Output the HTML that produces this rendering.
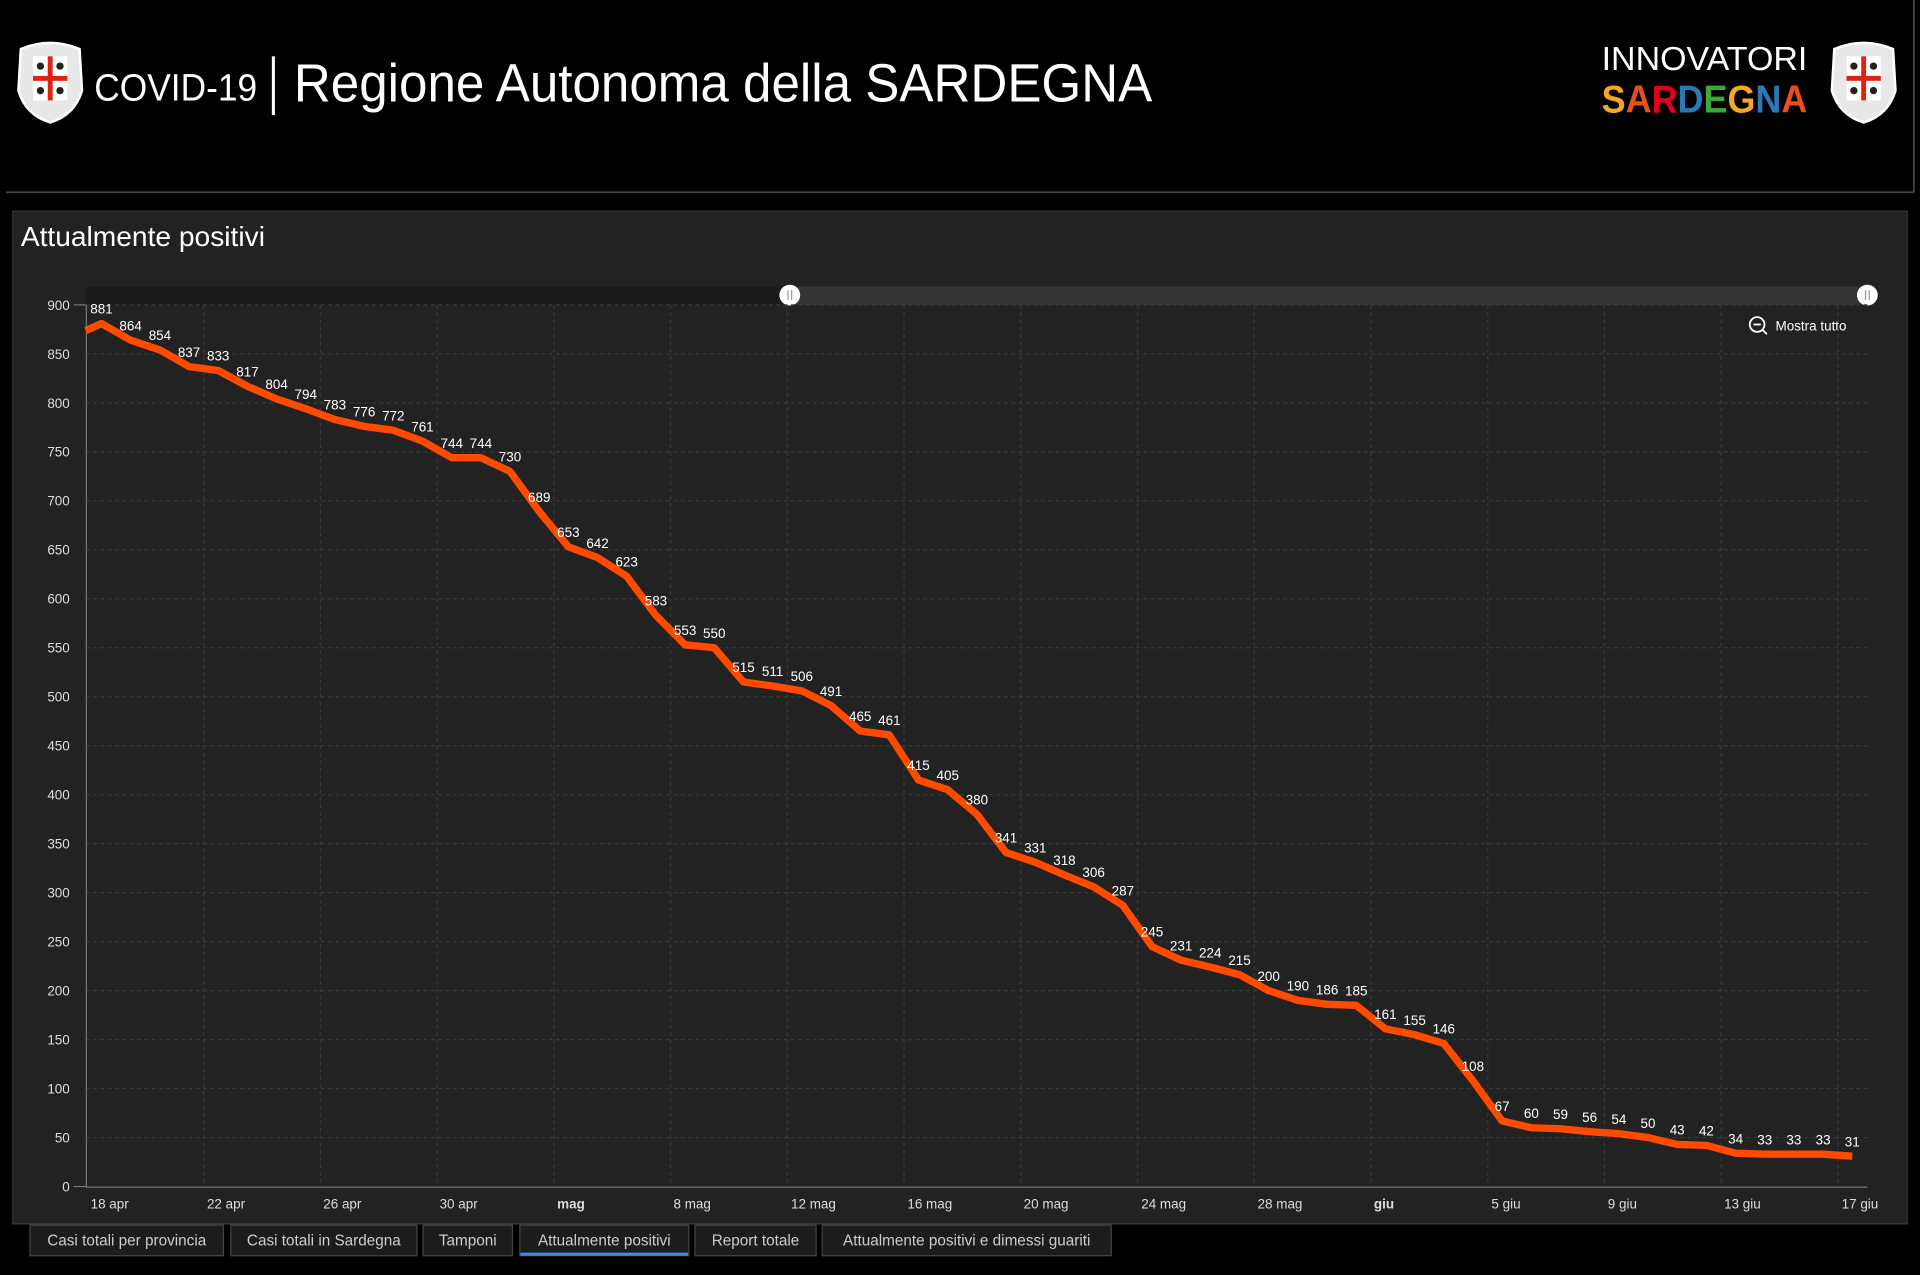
<!DOCTYPE html>
<html><head><meta charset="utf-8"><style>
html,body{margin:0;padding:0;background:#000;width:1920px;height:1275px;overflow:hidden}
svg{display:block}
text{font-family:"Liberation Sans",sans-serif}
</style></head><body>
<svg width="1920" height="1275" viewBox="0 0 1568 1041.25" preserveAspectRatio="none">
<rect width="1568" height="1042" fill="#000"/>
<line x1="5" y1="157" x2="1563" y2="157" stroke="#444" stroke-width="1.5"/>
<line x1="1563" y1="0" x2="1563" y2="157" stroke="#444" stroke-width="1.5"/>
<g transform="translate(41,66)">
<path d="M-24,-26 Q0,-36 24,-26 L26,8 Q20,28 0,34 Q-20,28 -26,8 Z" fill="#e8e8e8" stroke="#fff" stroke-width="2"/>
<rect x="-14" y="-20" width="28" height="36" fill="#fff"/>
<rect x="-14" y="-4" width="28" height="4" fill="#d21"/>
<rect x="-2" y="-20" width="4" height="36" fill="#d21"/>
<circle cx="-8" cy="-12" r="3" fill="#222"/><circle cx="8" cy="-12" r="3" fill="#222"/>
<circle cx="-8" cy="8" r="3" fill="#222"/><circle cx="8" cy="8" r="3" fill="#222"/>
</g>
<text x="77" y="82" font-size="31" fill="#fff" textLength="133" lengthAdjust="spacingAndGlyphs">COVID-19</text>
<rect x="222" y="46" width="2.5" height="48" fill="#fff"/>
<text x="240" y="83" font-size="44" fill="#fff" textLength="701" lengthAdjust="spacingAndGlyphs">Regione Autonoma della SARDEGNA</text>
<text x="1308" y="57" font-size="27" fill="#fff" textLength="168" lengthAdjust="spacingAndGlyphs" font-family="Liberation Sans Narrow, Liberation Sans, sans-serif">INNOVATORI</text>
<text x="1308" y="92" font-size="32" font-weight="bold" textLength="168" lengthAdjust="spacingAndGlyphs"><tspan fill="#f5a623">S</tspan><tspan fill="#e94e1b">A</tspan><tspan fill="#e2001a">R</tspan><tspan fill="#2a7ab8">D</tspan><tspan fill="#3aaa35">E</tspan><tspan fill="#f5a623">G</tspan><tspan fill="#2a7ab8">N</tspan><tspan fill="#e94e1b">A</tspan></text>
<g transform="translate(1522,66)">
<path d="M-24,-26 Q0,-36 24,-26 L26,8 Q20,28 0,34 Q-20,28 -26,8 Z" fill="#e8e8e8" stroke="#fff" stroke-width="2"/>
<rect x="-14" y="-20" width="28" height="36" fill="#fff"/>
<rect x="-14" y="-4" width="28" height="4" fill="#d21"/>
<rect x="-2" y="-20" width="4" height="36" fill="#d21"/>
<circle cx="-8" cy="-12" r="3" fill="#222"/><circle cx="8" cy="-12" r="3" fill="#222"/>
<circle cx="-8" cy="8" r="3" fill="#222"/><circle cx="8" cy="8" r="3" fill="#222"/>
</g>
<rect x="10.5" y="172.5" width="1547" height="827" fill="#222" stroke="#3a3a3a"/>
<text x="17" y="201" font-size="23" fill="#fff">Attualmente positivi</text>
<rect x="70" y="234" width="575" height="15" fill="#1b1b1b"/>
<rect x="645" y="234" width="880" height="15" fill="#333"/>
<circle cx="645" cy="241" r="8.5" fill="#fff"/><circle cx="1525" cy="241" r="8.5" fill="#fff"/>
<line x1="643.5" y1="237" x2="643.5" y2="245" stroke="#999"/><line x1="646.5" y1="237" x2="646.5" y2="245" stroke="#999"/>
<line x1="1523.5" y1="237" x2="1523.5" y2="245" stroke="#999"/><line x1="1526.5" y1="237" x2="1526.5" y2="245" stroke="#999"/>
<circle cx="1435" cy="265" r="6" fill="none" stroke="#fff" stroke-width="1.5"/><line x1="1432" y1="265" x2="1438" y2="265" stroke="#fff" stroke-width="1.5"/><line x1="1439" y1="269" x2="1443" y2="273" stroke="#fff" stroke-width="1.5"/>
<text x="1450" y="270" font-size="11" fill="#fff">Mostra tutto</text>
<g stroke="#3a3a3a" stroke-dasharray="3,3" stroke-width="1">
<line x1="70" y1="929" x2="1525" y2="929"/><line x1="70" y1="889" x2="1525" y2="889"/><line x1="70" y1="849" x2="1525" y2="849"/><line x1="70" y1="809" x2="1525" y2="809"/><line x1="70" y1="769" x2="1525" y2="769"/><line x1="70" y1="729" x2="1525" y2="729"/><line x1="70" y1="689" x2="1525" y2="689"/><line x1="70" y1="649" x2="1525" y2="649"/><line x1="70" y1="609" x2="1525" y2="609"/><line x1="70" y1="569" x2="1525" y2="569"/><line x1="70" y1="529" x2="1525" y2="529"/><line x1="70" y1="489" x2="1525" y2="489"/><line x1="70" y1="449" x2="1525" y2="449"/><line x1="70" y1="409" x2="1525" y2="409"/><line x1="70" y1="369" x2="1525" y2="369"/><line x1="70" y1="329" x2="1525" y2="329"/><line x1="70" y1="289" x2="1525" y2="289"/><line x1="70" y1="249" x2="1525" y2="249"/>
<line x1="166.3" y1="249" x2="166.3" y2="969"/><line x1="261.6" y1="249" x2="261.6" y2="969"/><line x1="357" y1="249" x2="357" y2="969"/><line x1="452.3" y1="249" x2="452.3" y2="969"/><line x1="547.6" y1="249" x2="547.6" y2="969"/><line x1="643" y1="249" x2="643" y2="969"/><line x1="738.3" y1="249" x2="738.3" y2="969"/><line x1="833.6" y1="249" x2="833.6" y2="969"/><line x1="929" y1="249" x2="929" y2="969"/><line x1="1024.3" y1="249" x2="1024.3" y2="969"/><line x1="1119.6" y1="249" x2="1119.6" y2="969"/><line x1="1215" y1="249" x2="1215" y2="969"/><line x1="1310.3" y1="249" x2="1310.3" y2="969"/><line x1="1405.6" y1="249" x2="1405.6" y2="969"/><line x1="1501" y1="249" x2="1501" y2="969"/>
</g>
<line x1="70.5" y1="249" x2="70.5" y2="970" stroke="#777"/>
<line x1="70" y1="969.5" x2="1525" y2="969.5" stroke="#777"/>
<g font-size="11" fill="#ddd" text-anchor="end">
<text x="57" y="973">0</text><text x="57" y="933">50</text><text x="57" y="893">100</text><text x="57" y="853">150</text><text x="57" y="813">200</text><text x="57" y="773">250</text><text x="57" y="733">300</text><text x="57" y="693">350</text><text x="57" y="653">400</text><text x="57" y="613">450</text><text x="57" y="573">500</text><text x="57" y="533">550</text><text x="57" y="493">600</text><text x="57" y="453">650</text><text x="57" y="413">700</text><text x="57" y="373">750</text><text x="57" y="333">800</text><text x="57" y="293">850</text><text x="57" y="253">900</text>
</g>
<g stroke="#777"><line x1="60" y1="969" x2="70" y2="969"/><line x1="60" y1="249" x2="70" y2="249"/></g>
<g font-size="11" fill="#ddd">
<text x="74" y="987">18 apr</text><text x="169" y="987">22 apr</text><text x="264" y="987">26 apr</text><text x="359" y="987">30 apr</text><text x="455" y="987" font-weight="bold">mag</text><text x="550" y="987">8 mag</text><text x="646" y="987">12 mag</text><text x="741" y="987">16 mag</text><text x="836" y="987">20 mag</text><text x="932" y="987">24 mag</text><text x="1027" y="987">28 mag</text><text x="1122" y="987" font-weight="bold">giu</text><text x="1218" y="987">5 giu</text><text x="1313" y="987">9 giu</text><text x="1408" y="987">13 giu</text><text x="1504" y="987">17 giu</text>
</g>
<polyline fill="none" stroke="#ff4a00" stroke-width="6" stroke-linejoin="round" points="70,270 82.9,264.2 106.7,277.8 130.6,285.8 154.4,299.4 178.2,302.6 202.1,315.4 225.9,325.8 249.7,333.8 273.5,342.6 297.4,348.2 321.2,351.4 345,360.2 368.9,373.8 392.7,373.8 416.5,385 440.4,417.8 464.2,446.6 488,455.4 511.8,470.6 535.7,502.6 559.5,526.6 583.3,529 607.2,557 631,560.2 654.8,564.2 678.7,576.2 702.5,597 726.3,600.2 750.1,637 774,645 797.8,665 821.6,696.2 845.5,704.2 869.3,714.6 893.1,724.2 917,739.4 940.8,773 964.6,784.2 988.4,789.8 1012.3,796 1036.1,809 1059.9,817 1083.8,820.2 1107.6,821 1131.4,840.2 1155.3,845 1179.1,852.2 1202.9,882.6 1226.7,915.4 1250.6,921 1274.4,921.8 1298.2,924.2 1322.1,925.8 1345.9,929 1369.7,934.6 1393.6,935.4 1417.4,941.8 1441.2,942.6 1465,942.6 1488.9,942.6 1512.7,944.2"/>
<g font-size="11" fill="#fff" text-anchor="middle">
<text x="82.9" y="256.2">881</text><text x="106.7" y="269.8">864</text><text x="130.6" y="277.8">854</text><text x="154.4" y="291.4">837</text><text x="178.2" y="294.6">833</text><text x="202.1" y="307.4">817</text><text x="225.9" y="317.8">804</text><text x="249.7" y="325.8">794</text><text x="273.5" y="334.6">783</text><text x="297.4" y="340.2">776</text><text x="321.2" y="343.4">772</text><text x="345" y="352.2">761</text><text x="368.9" y="365.8">744</text><text x="392.7" y="365.8">744</text><text x="416.5" y="377">730</text><text x="440.4" y="409.8">689</text><text x="464.2" y="438.6">653</text><text x="488" y="447.4">642</text><text x="511.8" y="462.6">623</text><text x="535.7" y="494.6">583</text><text x="559.5" y="518.6">553</text><text x="583.3" y="521">550</text><text x="607.2" y="549">515</text><text x="631" y="552.2">511</text><text x="654.8" y="556.2">506</text><text x="678.7" y="568.2">491</text><text x="702.5" y="589">465</text><text x="726.3" y="592.2">461</text><text x="750.1" y="629">415</text><text x="774" y="637">405</text><text x="797.8" y="657">380</text><text x="821.6" y="688.2">341</text><text x="845.5" y="696.2">331</text><text x="869.3" y="706.6">318</text><text x="893.1" y="716.2">306</text><text x="917" y="731.4">287</text><text x="940.8" y="765">245</text><text x="964.6" y="776.2">231</text><text x="988.4" y="781.8">224</text><text x="1012.3" y="788">215</text><text x="1036.1" y="801">200</text><text x="1059.9" y="809">190</text><text x="1083.8" y="812.2">186</text><text x="1107.6" y="813">185</text><text x="1131.4" y="832.2">161</text><text x="1155.3" y="837">155</text><text x="1179.1" y="844.2">146</text><text x="1202.9" y="874.6">108</text><text x="1226.7" y="907.4">67</text><text x="1250.6" y="913">60</text><text x="1274.4" y="913.8">59</text><text x="1298.2" y="916.2">56</text><text x="1322.1" y="917.8">54</text><text x="1345.9" y="921">50</text><text x="1369.7" y="926.6">43</text><text x="1393.6" y="927.4">42</text><text x="1417.4" y="933.8">34</text><text x="1441.2" y="934.6">33</text><text x="1465" y="934.6">33</text><text x="1488.9" y="934.6">33</text><text x="1512.7" y="936.2">31</text>
</g>
<g fill="#1c1c1c" stroke="#444">
<rect x="24.5" y="1000.5" width="158" height="25"/><rect x="188.5" y="1000.5" width="152" height="25"/><rect x="345.5" y="1000.5" width="73" height="25"/><rect x="424.5" y="1000.5" width="138" height="25"/><rect x="567.5" y="1000.5" width="99" height="25"/><rect x="671.5" y="1000.5" width="236" height="25"/>
</g>
<rect x="425" y="1023" width="137" height="2.5" fill="#3a8ee6"/>
<g font-size="12.5" fill="#ccc" text-anchor="middle">
<text x="103.5" y="1017">Casi totali per provincia</text><text x="264.5" y="1017">Casi totali in Sardegna</text><text x="382" y="1017">Tamponi</text><text x="493.5" y="1017">Attualmente positivi</text><text x="617" y="1017">Report totale</text><text x="789.5" y="1017">Attualmente positivi e dimessi guariti</text>
</g>
</svg>
</body></html>
